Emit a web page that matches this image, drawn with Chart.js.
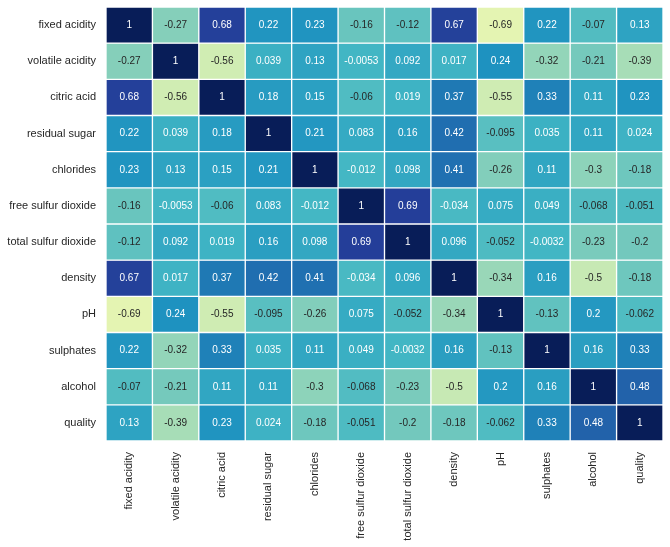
<!DOCTYPE html>
<html>
<head>
<meta charset="utf-8">
<script src="https://cdn.jsdelivr.net/npm/chart.js@4"></script>
<style>
  html, body { margin: 0; padding: 0; background: #fff; }
  #wrap { width: 670px; height: 547px; }
</style>
</head>
<body>
<div id="wrap"><canvas id="heat"></canvas></div>
<script>
const features = ['fixed acidity', 'volatile acidity', 'citric acid', 'residual sugar', 'chlorides',
    'free sulfur dioxide', 'total sulfur dioxide', 'density', 'pH', 'sulphates', 'alcohol', 'quality'];

// one row of the correlation matrix per feature
const fixedAcidity = [1, -0.27, 0.68, 0.22, 0.23, -0.16, -0.12, 0.67, -0.69, 0.22, -0.07, 0.13];
const volatileAcidity = [-0.27, 1, -0.56, 0.039, 0.13, -0.0053, 0.092, 0.017, 0.24, -0.32, -0.21, -0.39];
const citricAcid = [0.68, -0.56, 1, 0.18, 0.15, -0.06, 0.019, 0.37, -0.55, 0.33, 0.11, 0.23];
const residualSugar = [0.22, 0.039, 0.18, 1, 0.21, 0.083, 0.16, 0.42, -0.095, 0.035, 0.11, 0.024];
const chlorides = [0.23, 0.13, 0.15, 0.21, 1, -0.012, 0.098, 0.41, -0.26, 0.11, -0.3, -0.18];
const freeSulfur = [-0.16, -0.0053, -0.06, 0.083, -0.012, 1, 0.69, -0.034, 0.075, 0.049, -0.068, -0.051];
const totalSulfur = [-0.12, 0.092, 0.019, 0.16, 0.098, 0.69, 1, 0.096, -0.052, -0.0032, -0.23, -0.2];
const density = [0.67, 0.017, 0.37, 0.42, 0.41, -0.034, 0.096, 1, -0.34, 0.16, -0.5, -0.18];
const pH = [-0.69, 0.24, -0.55, -0.095, -0.26, 0.075, -0.052, -0.34, 1, -0.13, 0.2, -0.062];
const sulphates = [0.22, -0.32, 0.33, 0.035, 0.11, 0.049, -0.0032, 0.16, -0.13, 1, 0.16, 0.33];
const alcohol = [-0.07, -0.21, 0.11, 0.11, -0.3, -0.068, -0.23, -0.5, 0.2, 0.16, 1, 0.48];
const quality = [0.13, -0.39, 0.23, 0.024, -0.18, -0.051, -0.2, -0.18, -0.062, 0.33, 0.48, 1];

const corrRows = [fixedAcidity, volatileAcidity, citricAcid, residualSugar, chlorides, freeSulfur,
    totalSulfur, density, pH, sulphates, alcohol, quality];

// YlGnBu, vmin -1 / vmax 1
const ylgnbu = ['#ffffd9', '#edf8b1', '#c7e9b4', '#7fcdbb', '#41b6c4', '#1d91c0', '#225ea8', '#253494', '#081d58']
    .map(h => [parseInt(h.slice(1, 3), 16), parseInt(h.slice(3, 5), 16), parseInt(h.slice(5, 7), 16)]);

function cmap(v) {
    let t = Math.min(1, Math.max(0, (v + 1) / 2)) * (ylgnbu.length - 1);
    let i = Math.min(Math.floor(t), ylgnbu.length - 2);
    let f = t - i;
    return ylgnbu[i].map((c, k) => Math.round(c + (ylgnbu[i + 1][k] - c) * f));
}

function textColor(rgb) {
    const lin = rgb.map(c => {
        c = c / 255;
        return c <= 0.03928 ? c / 12.92 : Math.pow((c + 0.055) / 1.055, 2.4);
    });
    const lum = 0.2126 * lin[0] + 0.7152 * lin[1] + 0.0722 * lin[2];
    return lum > 0.408 ? '#262626' : '#ffffff';
}

const datasets = corrRows.map((row, r) => ({
    label: features[r],
    data: row.map(() => [r, r + 1]),
    values: row,
    backgroundColor: row.map(v => 'rgb(' + cmap(v).join(',') + ')'),
    borderColor: '#ffffff',
    borderWidth: 1,
    borderSkipped: false,
    barPercentage: 1,
    categoryPercentage: 1,
    grouped: false
}));

const cellText = {
    id: 'cellText',
    afterDatasetsDraw(chart) {
        const c = chart.ctx;
        c.save();
        c.font = '10px "Liberation Sans", Arial, sans-serif';
        c.textAlign = 'center';
        c.textBaseline = 'middle';
        chart.data.datasets.forEach((ds, di) => {
            chart.getDatasetMeta(di).data.forEach((bar, j) => {
                const v = ds.values[j];
                c.fillStyle = textColor(cmap(v));
                c.fillText(String(v), bar.x, (bar.y + bar.base) / 2);
            });
        });
        c.restore();
    }
};

const labelFont = { family: '"Liberation Sans", Arial, sans-serif', size: 11 };

new Chart(document.getElementById('heat'), {
    type: 'bar',
    data: { labels: features, datasets: datasets },
    plugins: [cellText],
    options: {
        responsive: true,
        maintainAspectRatio: false,
        animation: false,
        layout: { padding: { top: 7, right: 7, left: 0, bottom: 0 } },
        plugins: { legend: { display: false }, tooltip: { enabled: false } },
        scales: {
            x: {
                type: 'category',
                offset: true,
                grid: { display: false, drawTicks: false },
                border: { display: false },
                ticks: { color: '#262626', font: labelFont, minRotation: 90, maxRotation: 90, padding: 11, autoSkip: false },
                afterFit(scale) { scale.height = 106; scale.paddingLeft = 0; scale.paddingRight = 0; }
            },
            y: {
                type: 'linear',
                min: 0,
                max: 12,
                reverse: true,
                grid: { display: false, drawTicks: false },
                border: { display: false },
                afterBuildTicks(scale) {
                    scale.ticks = features.map((_, i) => ({ value: i + 0.5 }));
                },
                ticks: {
                    color: '#262626',
                    font: labelFont,
                    padding: 10,
                    autoSkip: false,
                    callback: v => features[Math.floor(v)]
                },
                afterFit(scale) { scale.width = 106; scale.paddingTop = 0; scale.paddingBottom = 0; }
            }
        }
    }
});
</script>
</body>
</html>
